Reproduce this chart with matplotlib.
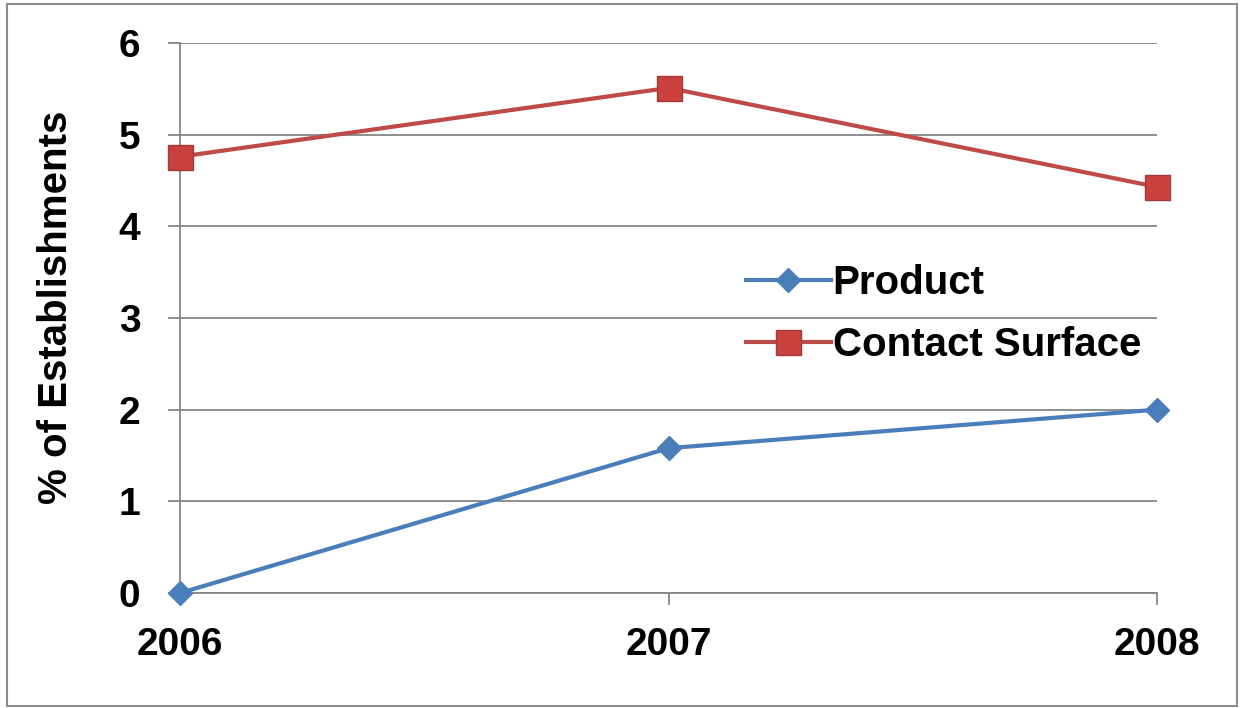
"""
Line chart: % of establishments with positive results, 2006-2008,
product vs. contact surface samples.
"""

import matplotlib
matplotlib.use("Agg")
import matplotlib.pyplot as plt
from matplotlib.patches import Rectangle

matplotlib.rcParams['font.family'] = ['Liberation Sans', 'DejaVu Sans']
matplotlib.rcParams['font.weight'] = 'bold'

YEARS = ["2006", "2007", "2008"]
PRODUCT = [0.0, 1.58, 2.0]
CONTACT_SURFACE = [4.76, 5.51, 4.43]

BLUE = "#4A7EBB"
RED = "#BE4B48"
AXIS_GRAY = "#868686"


def main():
    fig = plt.figure(figsize=(12.41, 7.08), dpi=100)
    ax = fig.add_axes([180 / 1241, 1 - 593 / 708, (1157 - 180) / 1241, (593 - 43) / 708])

    x = list(range(len(YEARS)))
    ax.plot(x, PRODUCT, color=BLUE, linewidth=3, marker="D", markersize=12,
            markerfacecolor=BLUE, markeredgecolor=BLUE, label="Product", zorder=3,
            clip_on=False)
    ax.plot(x, CONTACT_SURFACE, color=RED, linewidth=3, marker="s", markersize=18,
            markerfacecolor="#C9403C", markeredgecolor="#A23B38", label="Contact Surface",
            zorder=3, clip_on=False)

    ax.set_xlim(0, len(YEARS) - 1)
    ax.set_ylim(0, 6)
    ax.set_xticks(x)
    ax.set_xticklabels(YEARS)
    ax.set_yticks(range(0, 7))

    ax.grid(True, axis="y", color=AXIS_GRAY, linewidth=1.3)
    ax.set_axisbelow(True)
    for side in ("top", "right"):
        ax.spines[side].set_visible(False)
    for side in ("left", "bottom"):
        ax.spines[side].set_color(AXIS_GRAY)
        ax.spines[side].set_linewidth(1.3)

    ax.tick_params(axis="y", length=8.5, width=1.3, color=AXIS_GRAY, pad=20,
                   labelsize=28)
    ax.tick_params(axis="x", length=8.5, width=1.3, color=AXIS_GRAY, pad=16,
                   labelsize=28)

    ax.set_ylabel("% of Establishments", fontsize=29, fontweight="bold")
    ax.yaxis.set_label_coords(-(180 - 75) / 977, 0.52)

    ax.legend(loc="upper left", bbox_to_anchor=((730 - 180) / 977, (593 - 248) / 550),
              frameon=False, fontsize=29, handlelength=2.1, handletextpad=0.05,
              labelspacing=0.6, borderaxespad=0)

    fig.patches.append(Rectangle((7 / 1241, 2 / 708), 1230 / 1241, 702 / 708,
                                 transform=fig.transFigure, fill=False,
                                 edgecolor="#8C8C8C", linewidth=1.5))

    fig.savefig("out.png", dpi=100)


if __name__ == "__main__":
    main()
